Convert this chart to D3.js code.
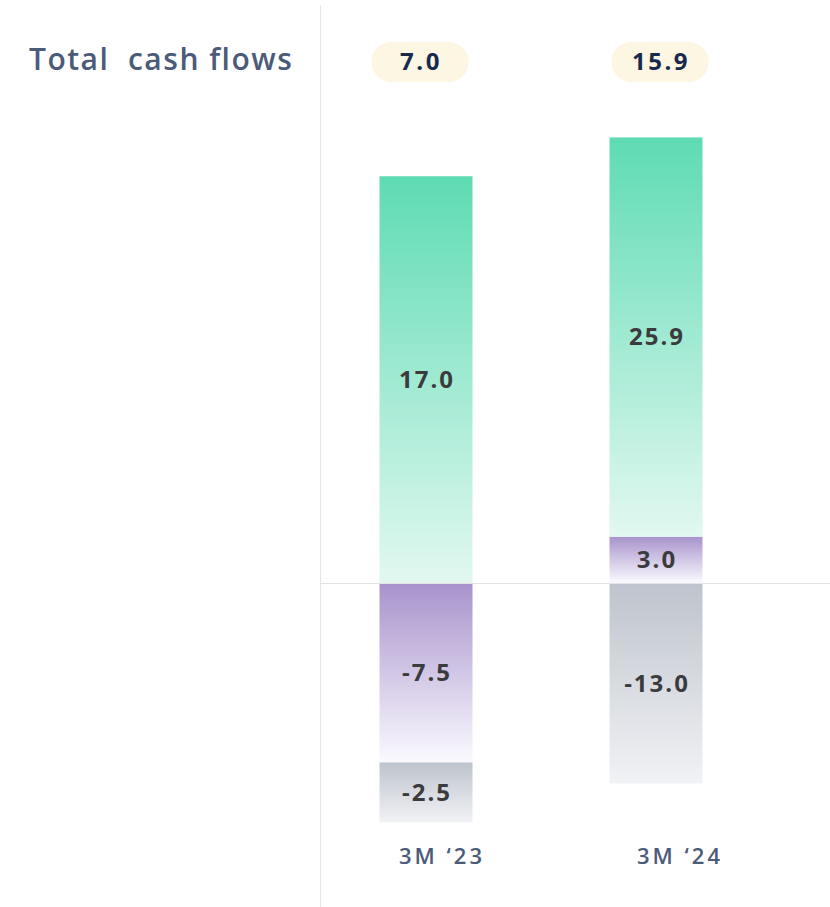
<!DOCTYPE html>
<html>
<head>
<meta charset="utf-8">
<script src="https://cdn.jsdelivr.net/npm/d3@7"></script>
<style>
  html, body { margin: 0; padding: 0; background: #fff; }
  svg { display: block; font-family: "Open Sans", sans-serif; }
</style>
</head>
<body>
<div id="chart"></div>
<script>
// Chart data
const periods = ["3M \u201823", "3M \u201824"];
const totals = [7.0, 15.9];
const operating = [17.0, 25.9];
const investing = [-7.5, 3.0];
const financing = [-2.5, -13.0];

const width = 830;
const height = 907;
const zeroY = 583;
const stackHeight = 646; // every column is scaled to the same full height
const barWidth = 93;

const series = [
  {key: "investing", values: investing, grad: "grad-purple", top: "#a893cc", bottom: "#fbfaff"},
  {key: "operating", values: operating, grad: "grad-green", top: "#5edbb3", bottom: "#e2f8f1"},
  {key: "financing", values: financing, grad: "grad-gray", top: "#bec4cd", bottom: "#f1f2f5"}
];

const rows = periods.map((p, i) => {
  const r = {period: p};
  series.forEach(s => r[s.key] = s.values[i]);
  return r;
});

const stacked = d3.stack()
  .keys(series.map(s => s.key))
  .offset(d3.stackOffsetDiverging)(rows);

const x = d3.scalePoint()
  .domain(periods)
  .range([426, 656]);

// one y scale per column, so both columns have the same total height
const yScales = rows.map(r => {
  const pos = d3.sum(series, s => Math.max(0, r[s.key]));
  const neg = d3.sum(series, s => Math.max(0, -r[s.key]));
  const k = stackHeight / (pos + neg);
  return d3.scaleLinear()
    .domain([-neg, pos])
    .range([zeroY + neg * k, zeroY - pos * k]);
});

const svg = d3.select("#chart").append("svg")
  .attr("width", width)
  .attr("height", height);

const defs = svg.append("defs");
series.forEach(s => {
  const g = defs.append("linearGradient")
    .attr("id", s.grad)
    .attr("x1", 0).attr("y1", 0).attr("x2", 0).attr("y2", 1);
  g.append("stop").attr("offset", "0%").attr("stop-color", s.top);
  g.append("stop").attr("offset", "100%").attr("stop-color", s.bottom);
});

// divider
svg.append("line")
  .attr("x1", 320.5).attr("x2", 320.5)
  .attr("y1", 5).attr("y2", height)
  .attr("stroke", "#e6e6e6");

svg.append("text")
  .attr("x", 29)
  .attr("y", 70)
  .attr("fill", "#4b5b79")
  .attr("font-size", 30)
  .attr("font-weight", 600)
  .attr("letter-spacing", 1.5)
  .style("white-space", "pre")
  .text("Total  cash flows");

// Bars
const layer = svg.append("g")
  .selectAll("g")
  .data(stacked)
  .join("g")
    .attr("fill", (d, i) => `url(#${series[i].grad})`);

layer.selectAll("rect")
  .data(d => d.map((v, i) => ({v, i, key: d.key})))
  .join("rect")
    .attr("x", d => x(periods[d.i]) - barWidth / 2)
    .attr("width", barWidth)
    .attr("y", d => yScales[d.i](d.v[1]))
    .attr("height", d => yScales[d.i](d.v[0]) - yScales[d.i](d.v[1]));

// zero line
svg.append("line")
  .attr("x1", 320).attr("x2", width)
  .attr("y1", zeroY + 0.5).attr("y2", zeroY + 0.5)
  .attr("stroke", "#e3e3e3");

// segment labels
layer.selectAll("text")
  .data(d => d.map((v, i) => ({v, i, key: d.key})))
  .join("text")
    .attr("x", d => x(periods[d.i]) + 1)
    .attr("y", d => (yScales[d.i](d.v[0]) + yScales[d.i](d.v[1])) / 2)
    .attr("dy", "0.35em")
    .attr("text-anchor", "middle")
    .attr("fill", "#3b3b3d")
    .attr("font-size", 24)
    .attr("font-weight", 700)
    .attr("letter-spacing", 2)
    .text(d => d3.format(".1f")(rows[d.i][d.key]).replace("\u2212", "-"));

// totals pills
const pill = svg.append("g")
  .selectAll("g")
  .data(periods)
  .join("g")
    .attr("transform", (d, i) => `translate(${x(d) + (i ? 4 : -6)},62)`);

pill.append("rect")
  .attr("x", -48.5).attr("y", -20)
  .attr("width", 97).attr("height", 40)
  .attr("rx", 20)
  .attr("fill", "#fdf6e2");

pill.append("text")
  .attr("x", 1)
  .attr("dy", "0.35em")
  .attr("text-anchor", "middle")
  .attr("fill", "#172a4d")
  .attr("font-size", 24)
  .attr("font-weight", 700)
  .attr("letter-spacing", 2.5)
  .text((d, i) => d3.format(".1f")(totals[i]));

// period labels
svg.append("g")
  .selectAll("text")
  .data(periods)
  .join("text")
    .attr("x", (d, i) => x(d) + (i ? 24 : 16))
    .attr("y", 864)
    .attr("text-anchor", "middle")
    .attr("fill", "#4b5b79")
    .attr("font-size", 22)
    .attr("font-weight", 600)
    .attr("letter-spacing", 3)
    .text(d => d);
</script>
</body>
</html>
